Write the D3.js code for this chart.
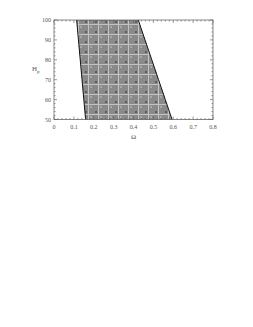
<!DOCTYPE html>
<html><head><meta charset="utf-8">
<script src="https://cdn.jsdelivr.net/npm/d3@7"></script>
<style>body{margin:0;background:#fff}</style>
</head><body>
<svg id="c" width="253" height="327"></svg>
<script>
const xTicks = [0,0.1,0.2,0.3,0.4,0.5,0.6,0.7,0.8];
const xTickLabels = ["0","0.1","0.2","0.3","0.4","0.5","0.6","0.7","0.8"];
const yTicks = [50,60,70,80,90,100];
const hpValues = [50,60,70,80,90,100];
const leftBoundary = [0.159,0.150,0.141,0.132,0.123,0.114];
const rightBoundary = [0.594,0.560,0.526,0.492,0.458,0.424];

const svg = d3.select("#c");
const m = {l:54, r:213, t:20, b:119.5};
const x = d3.scaleLinear().domain([0,0.8]).range([m.l,m.r]);
const y = d3.scaleLinear().domain([50,100]).range([m.b,m.t]);

const defs = svg.append("defs");
const pat = defs.append("pattern").attr("id","chk").attr("patternUnits","userSpaceOnUse")
  .attr("x",m.l).attr("y",m.t).attr("width",10).attr("height",10);
pat.append("rect").attr("width",10).attr("height",10).attr("fill","#8a8a8a");
pat.append("rect").attr("x",0).attr("y",4).attr("width",10).attr("height",1).attr("fill","#c4c4c4");
pat.append("rect").attr("x",4).attr("y",0).attr("width",1).attr("height",10).attr("fill","#c4c4c4");
pat.append("rect").attr("x",1).attr("y",1).attr("width",2).attr("height",2).attr("fill","#5c5c5c");
pat.append("rect").attr("x",6).attr("y",6).attr("width",2).attr("height",2).attr("fill","#a8a8a8");

const pts = hpValues.map((h,i)=>({h, l:leftBoundary[i], r:rightBoundary[i]}));
const area = d3.area().y(d=>y(d.h)).x0(d=>x(d.l)).x1(d=>x(d.r));
svg.append("path").datum(pts).attr("d",area).attr("fill","url(#chk)");
const lineL = d3.line().x(d=>x(d.l)).y(d=>y(d.h));
const lineR = d3.line().x(d=>x(d.r)).y(d=>y(d.h));
svg.append("path").datum(pts).attr("d",lineL).attr("fill","none").attr("stroke","#111").attr("stroke-width",1);
svg.append("path").datum(pts).attr("d",lineR).attr("fill","none").attr("stroke","#111").attr("stroke-width",1);

svg.append("rect").attr("x",m.l).attr("y",m.t).attr("width",m.r-m.l).attr("height",m.b-m.t)
  .attr("fill","none").attr("stroke","#555").attr("stroke-width",0.7);

const font = "'Liberation Serif', serif";
const minorX = d3.range(0,0.8001,0.02);
const minorY = d3.range(50,100.01,2);
const g = svg.append("g").attr("stroke","#555").attr("stroke-width",0.6);
minorX.forEach(v=>{
  const L = (Math.abs(v*10-Math.round(v*10))<1e-6)?3:1.5;
  g.append("line").attr("x1",x(v)).attr("x2",x(v)).attr("y1",m.b).attr("y2",m.b-L);
  g.append("line").attr("x1",x(v)).attr("x2",x(v)).attr("y1",m.t).attr("y2",m.t+L);
});
minorY.forEach(v=>{
  const L = (v%10===0)?3:1.5;
  g.append("line").attr("y1",y(v)).attr("y2",y(v)).attr("x1",m.l).attr("x2",m.l+L);
  g.append("line").attr("y1",y(v)).attr("y2",y(v)).attr("x1",m.r).attr("x2",m.r-L);
});

svg.append("g").selectAll("text").data(xTicks).join("text")
  .attr("x",d=>x(d)).attr("y",m.b+9).attr("text-anchor","middle")
  .attr("font-family",font).attr("font-size",6).attr("fill","#555")
  .text((d,i)=>xTickLabels[i]);
svg.append("g").selectAll("text").data(yTicks).join("text")
  .attr("x",m.l-3).attr("y",d=>y(d)+2).attr("text-anchor","end")
  .attr("font-family",font).attr("font-size",6).attr("fill","#555")
  .text(d=>d);
svg.append("text").attr("x",x(0.4)).attr("y",m.b+19).attr("text-anchor","middle")
  .attr("font-family",font).attr("font-size",7).attr("fill","#555").text("Ω");
const yl = svg.append("text").attr("x",32).attr("y",71)
  .attr("font-family",font).attr("font-size",7).attr("fill","#555");
yl.append("tspan").text("H");
yl.append("tspan").attr("font-size",5).attr("dy",1.5).text("p");
</script>
</body></html>
